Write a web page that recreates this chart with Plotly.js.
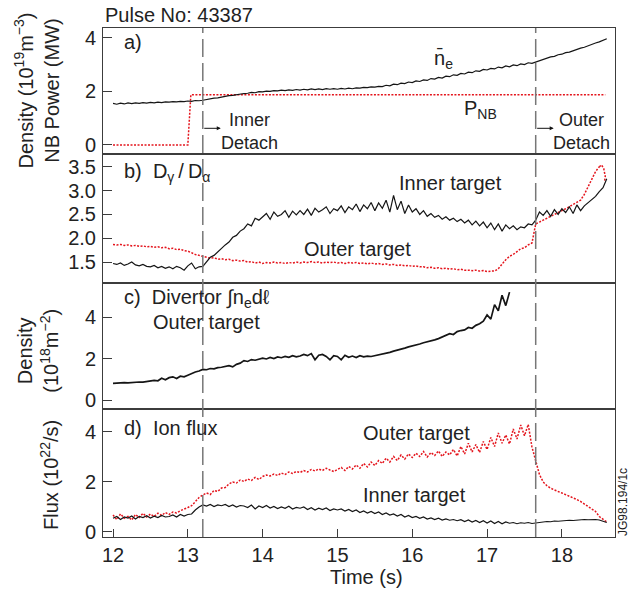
<!DOCTYPE html>
<html><head><meta charset="utf-8">
<script src="https://cdn.plot.ly/plotly-3.0.1.min.js"></script>
<style>html,body{margin:0;padding:0;background:#fff}#chart{width:639px;height:589px}</style>
</head><body><div id="chart"></div>
<script>
// ---------- DATA ----------
const tickTimes = [12, 13, 14, 15, 16, 17, 18];
const detachTimes = [13.2, 17.65];
// sampled every 0.05 s from t = 12.00 s
const neDensity = [
  1.55,1.52,1.56,1.53,1.57,1.54,1.57,1.55,1.58,1.56,
  1.59,1.57,1.60,1.58,1.61,1.60,1.62,1.61,1.63,1.62,
  1.64,1.63,1.66,1.65,1.67,1.70,1.72,1.75,1.76,1.79,
  1.81,1.84,1.85,1.88,1.89,1.92,1.93,1.96,1.95,1.99,
  1.98,2.01,2.00,2.03,2.02,2.05,2.03,2.06,2.04,2.07,
  2.05,2.08,2.06,2.09,2.07,2.09,2.07,2.10,2.08,2.10,
  2.08,2.11,2.09,2.12,2.10,2.13,2.12,2.15,2.14,2.17,
  2.16,2.19,2.18,2.23,2.21,2.27,2.25,2.31,2.29,2.35,
  2.33,2.39,2.37,2.43,2.41,2.48,2.46,2.52,2.50,2.57,
  2.55,2.62,2.60,2.67,2.65,2.72,2.70,2.77,2.75,2.82,
  2.80,2.86,2.84,2.91,2.88,2.95,2.92,2.99,2.96,3.03,
  3.00,3.07,3.05,3.10,3.14,3.20,3.23,3.29,3.31,3.37,
  3.39,3.45,3.47,3.53,3.56,3.62,3.65,3.71,3.75,3.81,
  3.85,3.92,3.97
];
const pnbTime = [12.0, 13.0, 13.04, 18.58];
const pnbPower = [0, 0, 1.87, 1.87];

const ratioInner = [
  1.47,1.45,1.48,1.43,1.46,1.50,1.44,1.42,1.45,1.41,
  1.40,1.43,1.38,1.41,1.37,1.40,1.36,1.41,1.38,1.33,
  1.42,1.48,1.36,1.40,1.41,1.50,1.60,1.64,1.72,1.80,
  1.86,1.92,2.02,2.06,2.15,2.20,2.30,2.26,2.42,2.38,
  2.45,2.52,2.40,2.55,2.46,2.50,2.58,2.44,2.57,2.49,
  2.58,2.50,2.61,2.48,2.63,2.55,2.60,2.66,2.52,2.62,
  2.58,2.68,2.54,2.66,2.60,2.72,2.56,2.70,2.62,2.75,
  2.58,2.74,2.63,2.80,2.55,2.90,2.60,2.78,2.52,2.70,
  2.55,2.62,2.50,2.58,2.46,2.52,2.44,2.48,2.40,2.45,
  2.38,2.42,2.35,2.40,2.32,2.38,2.28,2.36,2.26,2.34,
  2.22,2.32,2.18,2.30,2.15,2.28,2.20,2.26,2.18,2.24,
  2.22,2.30,2.28,2.38,2.55,2.48,2.58,2.46,2.60,2.50,
  2.62,2.54,2.66,2.52,2.70,2.58,2.68,2.75,2.80,2.88,
  2.98,3.06,3.25
];
const ratioOuter = [
  1.87,1.86,1.87,1.85,1.86,1.84,1.85,1.83,1.84,1.82,
  1.83,1.81,1.82,1.80,1.81,1.78,1.79,1.76,1.77,1.74,
  1.73,1.69,1.66,1.64,1.62,1.61,1.58,1.59,1.56,1.57,
  1.55,1.56,1.53,1.54,1.52,1.53,1.50,1.51,1.48,1.50,
  1.47,1.49,1.48,1.50,1.48,1.49,1.47,1.49,1.48,1.50,
  1.48,1.50,1.49,1.51,1.49,1.50,1.48,1.50,1.49,1.50,
  1.48,1.49,1.47,1.49,1.48,1.49,1.47,1.48,1.46,1.48,
  1.46,1.47,1.45,1.46,1.44,1.45,1.43,1.44,1.42,1.43,
  1.41,1.42,1.40,1.40,1.38,1.39,1.37,1.38,1.36,1.37,
  1.35,1.36,1.34,1.35,1.33,1.33,1.32,1.33,1.31,1.32,
  1.30,1.31,1.31,1.36,1.46,1.55,1.62,1.66,1.72,1.78,
  1.80,1.86,1.90,2.30,2.34,2.38,2.42,2.46,2.50,2.54,
  2.57,2.62,2.66,2.71,2.75,2.80,2.92,3.08,3.25,3.40,
  3.50
];
const ratioOuterTailTime = [18.50, 18.53, 18.56, 18.58, 18.57];
const ratioOuterTail = [3.50, 3.54, 3.46, 3.30, 3.18];

const divertorDensity = [
  0.80,0.82,0.81,0.84,0.83,0.85,0.84,0.87,0.86,0.88,
  0.92,0.95,0.93,1.05,0.98,1.08,1.12,1.04,1.15,1.12,
  1.20,1.28,1.35,1.40,1.48,1.46,1.52,1.50,1.56,1.58,
  1.62,1.66,1.60,1.72,1.78,1.90,1.86,1.95,1.92,1.98,
  2.02,1.98,2.05,2.00,2.08,2.04,2.10,2.06,2.14,2.08,
  2.12,2.20,2.14,2.24,1.94,2.16,2.20,2.10,1.94,2.14,
  2.10,1.94,2.16,2.06,2.12,2.05,2.14,2.08,2.12,2.10,
  2.14,2.16,2.20,2.25,2.30,2.36,2.40,2.46,2.50,2.56,
  2.60,2.66,2.70,2.76,2.80,2.86,2.90,2.96,3.04,3.10,
  3.20,3.16,3.30,3.35,3.38,3.50,3.46,3.60,3.68,3.80,
  4.10,3.90,4.60,4.30,5.05,4.55,5.20
];

const fluxOuter = [
  0.68,0.50,0.72,0.55,0.62,0.48,0.70,0.58,0.75,0.60,
  0.72,0.62,0.75,0.66,0.78,0.70,0.80,0.76,0.85,0.90,
  0.98,1.05,1.20,1.38,1.48,1.56,1.50,1.66,1.62,1.76,
  1.78,1.92,2.00,1.96,2.08,2.02,2.12,2.06,2.18,2.10,
  2.22,2.28,2.24,2.32,2.26,2.36,2.30,2.40,2.34,2.42,
  2.38,2.46,2.40,2.50,2.44,2.52,2.46,2.55,2.48,2.42,
  2.50,2.58,2.46,2.62,2.52,2.68,2.55,2.74,2.60,2.80,
  2.66,2.86,2.74,2.95,2.80,3.02,2.86,3.08,2.92,3.12,
  2.98,3.15,3.02,3.22,3.00,3.18,3.06,3.24,3.02,3.20,
  3.08,3.30,3.04,3.42,3.12,3.55,3.20,3.50,3.18,3.62,
  3.30,3.78,3.42,3.96,3.55,3.88,3.52,4.12,3.72,4.28,
  3.85,4.30,3.40,2.90,2.30,2.00,1.85,1.75,1.70,1.62,
  1.56,1.50,1.44,1.38,1.30,1.22,1.12,1.02,0.94,0.82,
  0.62,0.50,0.40
];
const fluxInner = [
  0.55,0.62,0.50,0.60,0.56,0.64,0.52,0.62,0.58,0.65,
  0.56,0.63,0.58,0.66,0.60,0.62,0.68,0.60,0.70,0.64,
  0.70,0.72,0.88,1.00,1.08,1.04,1.10,1.02,1.08,1.05,
  1.10,1.02,1.08,1.00,1.06,1.04,0.98,1.08,0.92,1.04,
  0.98,1.06,0.96,1.02,0.94,1.00,0.95,1.03,0.92,0.98,
  0.95,1.00,0.90,0.97,0.88,0.95,0.90,0.96,0.86,0.92,
  0.88,0.92,0.84,0.90,0.82,0.88,0.78,0.84,0.76,0.82,
  0.74,0.80,0.70,0.76,0.68,0.72,0.64,0.70,0.60,0.66,
  0.58,0.62,0.55,0.60,0.52,0.56,0.50,0.55,0.48,0.52,
  0.47,0.50,0.45,0.49,0.42,0.48,0.40,0.46,0.38,0.45,
  0.36,0.44,0.34,0.42,0.33,0.40,0.35,0.38,0.33,0.37,
  0.35,0.38,0.34,0.36,0.40,0.39,0.42,0.41,0.44,0.43,
  0.45,0.44,0.47,0.46,0.48,0.47,0.50,0.49,0.51,0.50,
  0.48,0.44,0.38
];

// ---------- STYLE ----------
const FONT = 'Liberation Sans, Arial, Helvetica, sans-serif';
const TXT = '#222';
const BLACK = '#151515';
const RED = '#e4141c';
const FRAME = '#3c3c3c';
const REDDASH = '2px,1.5px';

function sampled(y, xa, ya, color, dash, width) {
  return {type: 'scatter', mode: 'lines', x0: 12, dx: 0.05, y: y, xaxis: xa, yaxis: ya,
    line: {color: color, dash: dash, width: width}, hoverinfo: 'skip', showlegend: false};
}
function explicit(x, y, xa, ya, color, dash, width) {
  return {type: 'scatter', mode: 'lines', x: x, y: y, xaxis: xa, yaxis: ya,
    line: {color: color, dash: dash, width: width}, hoverinfo: 'skip', showlegend: false};
}

const traces = [
  explicit(pnbTime, pnbPower, 'x', 'y', RED, REDDASH, 1.5),
  sampled(neDensity, 'x', 'y', BLACK, 'solid', 1.2),
  sampled(ratioOuter, 'x2', 'y2', RED, REDDASH, 1.5),
  explicit(ratioOuterTailTime, ratioOuterTail, 'x2', 'y2', RED, REDDASH, 1.5),
  sampled(ratioInner, 'x2', 'y2', BLACK, 'solid', 1.2),
  sampled(divertorDensity, 'x3', 'y3', BLACK, 'solid', 1.7),
  sampled(fluxOuter, 'x4', 'y4', RED, REDDASH, 1.5),
  sampled(fluxInner, 'x4', 'y4', BLACK, 'solid', 1.2)
];

const XR = [11.866, 18.71];
function xAxis(anchor, bottom) {
  const a = {domain: [0, 1], anchor: anchor, range: XR, showline: true, mirror: true,
    linecolor: FRAME, linewidth: 1, showgrid: false, zeroline: false, fixedrange: true};
  if (anchor !== 'y') a.matches = 'x';
  if (bottom) {
    Object.assign(a, {ticks: 'inside', ticklen: 8, tickcolor: FRAME, tickvals: tickTimes,
      showticklabels: true, tickfont: {family: FONT, size: 20, color: TXT}});
  } else {
    Object.assign(a, {ticks: '', showticklabels: false});
  }
  return a;
}
function yAxis(domain, range, tickvals, fmt) {
  return {domain: domain, range: range, tickvals: tickvals, tickformat: fmt,
    ticks: 'inside', ticklen: 9, tickcolor: FRAME, showline: true, mirror: true,
    linecolor: FRAME, linewidth: 1, showgrid: false, zeroline: false, fixedrange: true,
    tickfont: {family: FONT, size: 20, color: TXT}, ticklabelstandoff: 2};
}

function label(text, x, y, xa, ya, size, extra) {
  return Object.assign({text: text, x: x, y: y, xref: xa, yref: ya, showarrow: false,
    xanchor: 'left', yanchor: 'middle', font: {family: FONT, size: size || 20, color: TXT}}, extra || {});
}
function arrow(x, y, xa, ya) {
  return {text: '', x: x, y: y, xref: xa, yref: ya, showarrow: true, ax: -18, ay: 0,
    arrowhead: 2, arrowsize: 0.8, arrowwidth: 1, arrowcolor: '#111', standoff: 0, startstandoff: 0};
}

const annotations = [
  label('Pulse No: 43387', 0, 1.0255, 'paper', 'paper', 20),
  label('a)', 12.12, 3.85, 'x', 'y'),
  label('n\u0304<sub>e</sub>', 16.27, 3.2, 'x', 'y'),
  label('P<sub>NB</sub>', 16.67, 1.31, 'x', 'y'),
  label('Inner<br>Detach', 13.82, 0.5, 'x', 'y', 18, {xanchor: 'center', align: 'center'}),
  label('Outer<br>Detach', 18.26, 0.5, 'x', 'y', 18, {xanchor: 'center', align: 'center'}),
  arrow(13.44, 0.62, 'x', 'y'),
  arrow(17.89, 0.62, 'x', 'y'),
  label('b)\u00a0\u00a0D<sub>\u03b3</sub>\u2009/\u2009D<sub>\u03b1</sub>', 12.12, 3.39, 'x2', 'y2'),
  label('Inner target', 15.79, 3.16, 'x2', 'y2'),
  label('Outer target', 14.52, 1.77, 'x2', 'y2'),
  label('c)\u00a0\u00a0Divertor \u222Bn<sub>e</sub>d\u2113', 12.12, 4.88, 'x3', 'y3'),
  label('Outer target', 12.51, 3.74, 'x3', 'y3'),
  label('d)\u00a0\u00a0Ion flux', 12.12, 4.16, 'x4', 'y4'),
  label('Outer target', 15.32, 3.96, 'x4', 'y4'),
  label('Inner target', 15.32, 1.48, 'x4', 'y4'),
  label('Density (10<sup>19</sup>m<sup>\u22123</sup>)<br>NB Power (MW)', -0.13, 0.878, 'paper', 'paper', 20,
    {textangle: -90, xanchor: 'center', align: 'center'}),
  label('Density<br>(10<sup>18</sup>m<sup>\u22122</sup>)', -0.126, 0.367, 'paper', 'paper', 20,
    {textangle: -90, xanchor: 'center', align: 'center'}),
  label('Flux (10<sup>22</sup>/s)', -0.1035, 0.122, 'paper', 'paper', 20,
    {textangle: -90, xanchor: 'center', align: 'center'}),
  label('Time (s)', 0.5156, -0.0786, 'paper', 'paper', 20, {xanchor: 'center'}),
  label('JG98.194/1c', 1.0156, 0.0688, 'paper', 'paper', 12, {textangle: -90, xanchor: 'center'})
];

const shapes = detachTimes.map(t => ({type: 'line', xref: 'x', yref: 'paper', x0: t, x1: t, y0: 0, y1: 1,
  line: {color: '#777', width: 1.5, dash: '18px,6px'}, layer: 'above'}));

const layout = {
  width: 639, height: 589,
  margin: {l: 103, r: 24, t: 28, b: 52},
  paper_bgcolor: '#fff', plot_bgcolor: '#fff',
  font: {family: FONT, size: 20, color: TXT},
  showlegend: false,
  xaxis: xAxis('y', false),
  xaxis2: xAxis('y2', false),
  xaxis3: xAxis('y3', false),
  xaxis4: xAxis('y4', true),
  yaxis: yAxis([0.7525, 1], [-0.34, 4.37], [0, 2, 4]),
  yaxis2: yAxis([0.499, 0.7525], [1.06, 3.77], [1.5, 2.0, 2.5, 3.0, 3.5], '.1f'),
  yaxis3: yAxis([0.2515, 0.499], [-0.43, 5.64], [0, 2, 4]),
  yaxis4: yAxis([0, 0.2515], [-0.2, 4.92], [0, 2, 4]),
  annotations: annotations,
  shapes: shapes
};

Plotly.newPlot('chart', traces, layout, {displayModeBar: false, staticPlot: true});
</script>
</body></html>
